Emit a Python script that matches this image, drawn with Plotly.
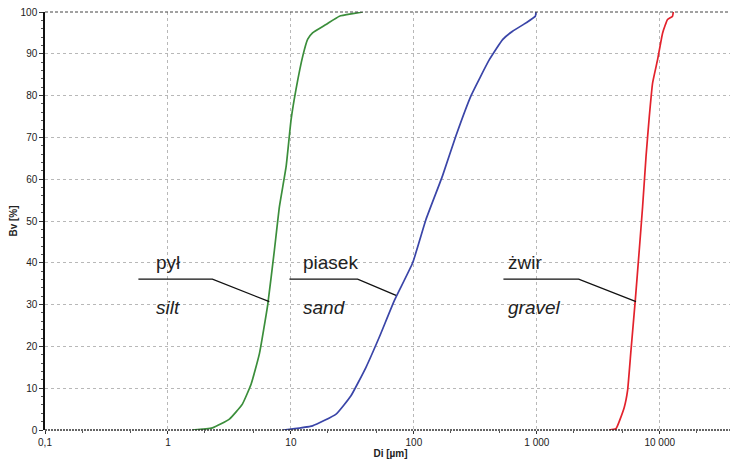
import math
import plotly.graph_objects as go

# ---- data ----
silt_di = [1.58, 2.30, 3.16, 4.03, 4.75, 5.54, 6.48, 7.34, 8.07, 9.14, 10.04, 11.0, 12.5, 13.7, 15.0, 19.3, 24.8, 31.8, 38.4]
silt_bv = [0, 0.5, 2.6, 6.2, 11, 18.2, 30, 43, 53.5, 63, 74.3, 81.5, 89.5, 93.5, 95, 97, 99, 99.6, 100]

sand_di = [8.69, 15.0, 23.3, 30.8, 40.8, 52.5, 69.5, 97.8, 125.6, 171, 220, 292, 411, 527, 635, 817, 973, 985]
sand_bv = [0, 1.0, 3.8, 8.2, 15, 22.3, 31, 40, 50.4, 60.8, 70.4, 80, 88.6, 93.4, 95.4, 97.4, 99, 100]

gravel_di = [3880, 4400, 5140, 5470, 5830, 6320, 6810, 7250, 7730, 8220, 8740, 9600, 10550, 11570, 12700, 12880]
gravel_bv = [0, 0.3, 5.4, 9.4, 19, 31, 43, 53.4, 65.4, 75, 83, 88.6, 95, 98.2, 99, 100]

tick_vals = [0.1, 1, 10, 100, 1000, 10000]
tick_text = ["0,1", "1", "10", "100", "1 000", "10 000"]

# labels: polish name, english name, text-left Di, leader line points (Di, Bv)
label_pl = ["pył", "piasek", "żwir"]
label_en = ["silt", "sand", "gravel"]
label_x = [0.777, 12.1, 562]
leader_x = [[0.575, 2.30, 6.68], [9.73, 34.9, 71.6], [535, 2190, 6410]]
leader_y = [[36.1, 36.1, 30.7], [36.1, 36.1, 32.2], [36.1, 36.1, 30.7]]

colors = ["#3b8e3b", "#3a45a8", "#e3222c"]

fig = go.Figure()
for xs, ys, c in [(silt_di, silt_bv, colors[0]), (sand_di, sand_bv, colors[1]), (gravel_di, gravel_bv, colors[2])]:
    fig.add_trace(go.Scatter(x=xs, y=ys, mode="lines", line=dict(color=c, width=1.7, shape="spline", smoothing=0.4),
                             showlegend=False, hoverinfo="skip"))

for lx, ly in zip(leader_x, leader_y):
    fig.add_trace(go.Scatter(x=lx, y=ly, mode="lines", line=dict(color="#111111", width=1.3), showlegend=False, hoverinfo="skip"))

for pl, en, x in zip(label_pl, label_en, label_x):
    fig.add_annotation(x=math.log10(x), y=40, xref="x", yref="y", text=pl, showarrow=False, xanchor="left", yanchor="middle",
                       font=dict(family="Liberation Sans, Arial", size=19, color="#222222"))
    fig.add_annotation(x=math.log10(x), y=29.3, xref="x", yref="y", text="<i>" + en + "</i>", showarrow=False, xanchor="left", yanchor="middle",
                       font=dict(family="Liberation Sans, Arial", size=19, color="#222222"))

# dashed top border and bottom axis
fig.add_shape(type="line", xref="paper", yref="paper", x0=0, x1=1, y0=1, y1=1, line=dict(color="#444444", width=1, dash="3px,2px"))
fig.add_shape(type="line", xref="paper", yref="paper", x0=0, x1=1, y0=0, y1=0, line=dict(color="#333333", width=1.3, dash="2px,1px"))

fig.update_layout(
    width=730, height=456,
    margin=dict(l=37, r=2, t=4, b=34),
    paper_bgcolor="white", plot_bgcolor="white",
    font=dict(family="Liberation Sans, Arial", size=10, color="#222222"),
)
fig.update_xaxes(
    type="log", range=[-1, 4.62], automargin=False, ticklabeloverflow="allow",
    tickvals=tick_vals, ticktext=tick_text,
    showgrid=True, gridcolor="#b8b8b8", griddash="3px,3px", gridwidth=1,
    showline=False, zeroline=False,
    ticks="outside", ticklen=3, tickcolor="#333",
    minor=dict(ticks="outside", ticklen=2, tickcolor="#555", showgrid=False),
    title=dict(text="<b>Di [µm]</b>", font=dict(size=10), standoff=2),
    tickfont=dict(size=10),
)
fig.update_yaxes(
    range=[0, 100], dtick=10, automargin=False, ticklabeloverflow="allow",
    showgrid=True, gridcolor="#b8b8b8", griddash="3px,3px", gridwidth=1,
    showline=True, linecolor="#111111", linewidth=1.5, zeroline=False,
    ticks="outside", ticklen=4, tickcolor="#333",
    minor=dict(dtick=2, ticks="outside", ticklen=2, tickcolor="#555", showgrid=False),
    title=dict(text="<b>Bv [%]</b>", font=dict(size=10), standoff=3),
    tickfont=dict(size=10),
)

fig.write_html("out.html")
